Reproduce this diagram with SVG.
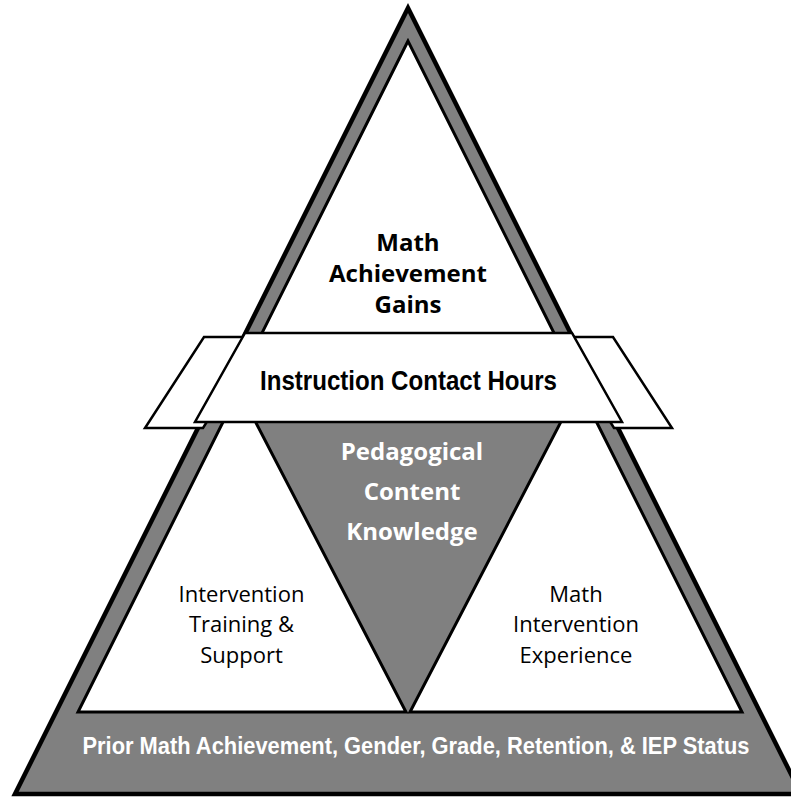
<svg xmlns="http://www.w3.org/2000/svg" width="791" height="797" viewBox="0 0 791 797">
<style>
.gray{fill:#808080;stroke:#000;stroke-linejoin:miter}
.wht{fill:#fff;stroke:#000;stroke-width:3;stroke-linejoin:miter}
.band{fill:#fff;stroke:#000;stroke-width:2.5;stroke-linejoin:miter}
.hb{font-family:"Open Sans","Liberation Sans",sans-serif;font-weight:700;font-size:24px;text-anchor:middle}
.hr{font-family:"Open Sans","Liberation Sans",sans-serif;font-weight:400;font-size:22px;text-anchor:middle;fill:#000}
.nb{font-family:"Liberation Sans Narrow","Liberation Sans",Arial,sans-serif;font-weight:700;font-stretch:condensed;text-anchor:middle}
</style>
<rect width="791" height="797" fill="#fff"/>
<g id="outer">
<polygon class="gray" stroke-width="4.5" points="408,8 15,794 801,794"/>
</g>
<g id="top-triangle">
<polygon class="wht" points="408,41 243.5,370 572.5,370"/>
<text class="hb" x="408" y="251" fill="#000">Math</text>
<text class="hb" x="408" y="282" fill="#000">Achievement</text>
<text class="hb" x="408" y="313" fill="#000">Gains</text>
</g>
<g id="left-triangle">
<polygon class="wht" points="239,390 406,712 78,712"/>
<text class="hr" x="241.5" y="602">Intervention</text>
<text class="hr" x="241.5" y="632">Training &amp;</text>
<text class="hr" x="241.5" y="663">Support</text>
</g>
<g id="right-triangle">
<polygon class="wht" points="579,387 742,712 410,712"/>
<text class="hr" x="576" y="602">Math</text>
<text class="hr" x="576" y="632">Intervention</text>
<text class="hr" x="576" y="663">Experience</text>
</g>
<g id="pck">
<text class="hb" x="412" y="460" fill="#fff">Pedagogical</text>
<text class="hb" x="412" y="500" fill="#fff">Content</text>
<text class="hb" x="412" y="540" fill="#fff">Knowledge</text>
</g>
<g id="base">
<text class="nb" x="416" y="753.5" font-size="23" fill="#fff" textLength="667" lengthAdjust="spacingAndGlyphs">Prior Math Achievement, Gender, Grade, Retention, &amp; IEP Status</text>
</g>
<g id="contact-hours">
<polygon class="band" points="204,337 260,337 203,428 145,428"/>
<polygon class="band" points="613,337 557,337 614,428 672,428"/>
<polygon class="band" points="245,333 572,333 622,422 195,422"/>
<text class="nb" x="408.5" y="390" font-size="27.5" fill="#000" textLength="297" lengthAdjust="spacingAndGlyphs">Instruction Contact Hours</text>
</g>
<g id="connectors"></g>
</svg>
